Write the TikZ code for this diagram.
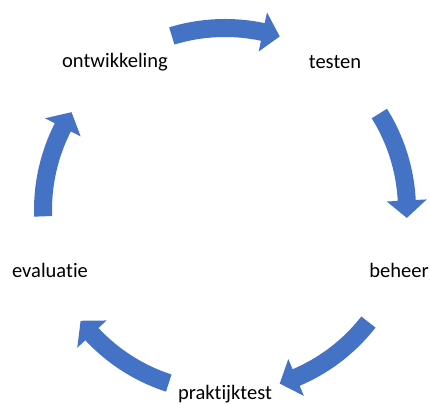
\documentclass[tikz,border=0pt]{standalone}
\usepackage{fontspec}
\setmainfont[Ligatures=NoCommon]{Carlito}
\usetikzlibrary{positioning}

\definecolor{cycblue}{HTML}{4472C4}
\tikzset{
  stage/.style={font=\fontsize{14.6}{17}\selectfont, inner sep=0pt},
  cycarrow/.style={fill=cycblue, draw=none}
}

\begin{document}
\begin{tikzpicture}[x=0.025cm, y=0.025cm]
\useasboundingbox (0,0) rectangle (430,405);
\def\x{225}
\def\y{195}

\node[stage] (ontw) at (\x + -110, \y + 148) {ontwikkeling};
\node[stage] (test) at (\x + 110, \y + 148) {testen};
\node[stage] (beh) at (\x + 174, \y + -60) {beheer};
\node[stage] (prak) at (\x + 0, \y + -184) {praktijktest};
\node[stage] (eval) at (\x + -175, \y + -60) {evaluatie};

\begin{scope}[shift={(\x,\y)}]
\foreach \c in {90, 15, -55, -125, 165} {
  \fill[cycarrow] (\c+17:173) arc[start angle=\c+17, end angle=\c-12, radius=173]
    -- (\c-12:162) -- (\c-17.5:182) -- (\c-12:202) -- (\c-12:191)
    arc[start angle=\c-12, end angle=\c+17, radius=191] -- cycle;
}
\end{scope}

\end{tikzpicture}
\end{document}
